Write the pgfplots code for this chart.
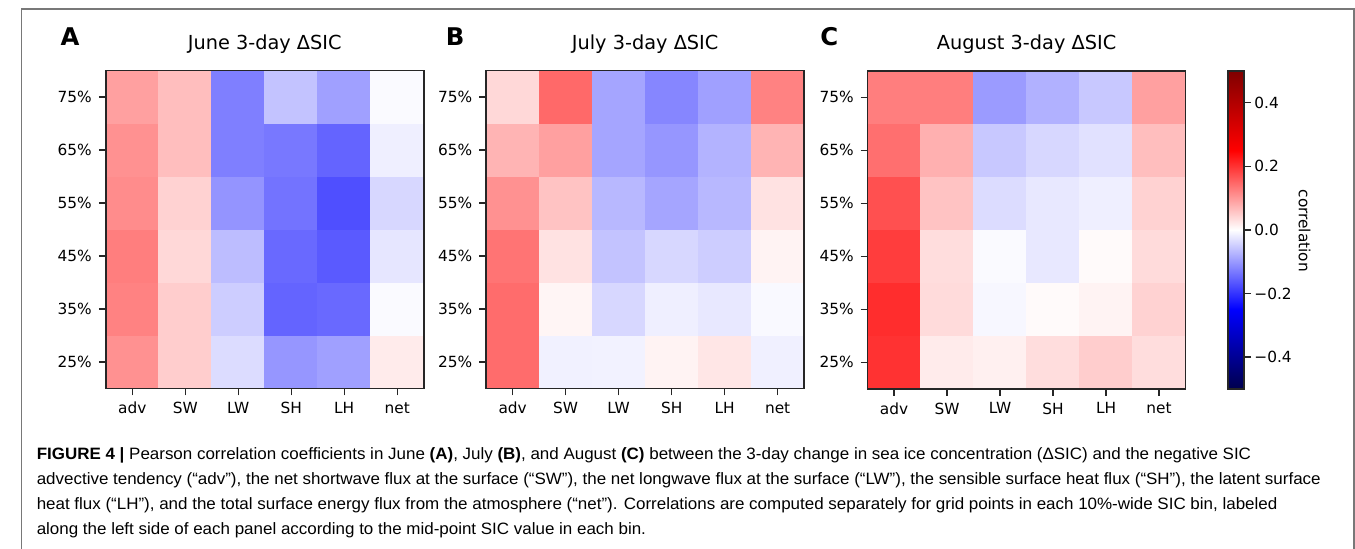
\documentclass[border=0pt]{standalone}
\usepackage{fontspec}
\setmainfont{DejaVu Sans}
\newfontfamily\capfont{Liberation Sans}
\usepackage{graphicx}
\usepackage{pgfplots}
\pgfplotsset{compat=1.18}

% diverging map, -0.5 (navy) .. 0 (white) .. 0.5 (dark red)
\pgfplotsset{
  colormap={seismic}{rgb=(0,0,0.3) rgb=(0,0,1) rgb=(1,1,1) rgb=(1,0,0) rgb=(0.5,0,0)},
  heat/.style={
    scale only axis, width=160.5pt, height=160.5pt,
    anchor=north west,
    axis on top,
    xmin=-0.5, xmax=5.5, ymin=-0.5, ymax=5.5,
    enlargelimits=false,
    xtick={0,...,5}, xticklabels={adv,SW,LW,SH,LH,net},
    ytick={0,...,5}, yticklabels={25\%,35\%,45\%,55\%,65\%,75\%},
    tick align=outside, tick pos=left,
    major tick length=3.5pt,
    tick style={draw=black!85, line width=0.7pt},
    axis line style={draw=black!85, line width=0.8pt},
    tick label style={font=\fontsize{7.75}{9}\selectfont},
    colormap name=seismic,
    point meta min=-0.5, point meta max=0.5,
  },
  cell/.style={matrix plot*, mesh/cols=6, point meta=explicit},
}

% correlation tables: x = flux term (adv SW LW SH LH net), y = SIC bin (25% .. 75%)
\pgfplotstableread{
x y c
0 0 0.108
1 0 0.049
2 0 -0.034
3 0 -0.103
4 0 -0.093
5 0 0.020
0 1 0.123
1 1 0.049
2 1 -0.049
3 1 -0.152
4 1 -0.147
5 1 -0.005
0 2 0.127
1 2 0.039
2 2 -0.064
3 2 -0.147
4 2 -0.162
5 2 -0.024
0 3 0.113
1 3 0.044
2 3 -0.105
3 3 -0.137
4 3 -0.172
5 3 -0.039
0 4 0.108
1 4 0.064
2 4 -0.125
3 4 -0.132
4 4 -0.152
5 4 -0.015
0 5 0.093
1 5 0.064
2 5 -0.125
3 5 -0.059
4 5 -0.093
5 5 -0.005
}\june

\pgfplotstableread{
x y c
0 0 0.144
1 0 -0.013
2 0 -0.012
3 0 0.012
4 0 0.025
5 0 -0.014
0 1 0.144
1 1 0.010
2 1 -0.039
3 1 -0.015
4 1 -0.022
5 1 -0.006
0 2 0.137
1 2 0.029
2 2 -0.059
3 2 -0.039
4 2 -0.049
5 2 0.012
0 3 0.108
1 3 0.059
2 3 -0.069
3 3 -0.088
4 3 -0.069
5 3 0.029
0 4 0.074
1 4 0.093
2 4 -0.088
3 4 -0.103
4 4 -0.074
5 4 0.074
0 5 0.039
1 5 0.147
2 5 -0.088
3 5 -0.118
4 5 -0.093
5 5 0.123
}\july

\pgfplotstableread{
x y c
0 0 0.201
1 0 0.020
2 0 0.015
3 0 0.034
4 0 0.049
5 0 0.034
0 1 0.206
1 1 0.036
2 1 -0.008
3 1 0.005
4 1 0.012
5 1 0.044
0 2 0.191
1 2 0.034
2 2 -0.005
3 2 -0.022
4 2 0.005
5 2 0.036
0 3 0.172
1 3 0.059
2 3 -0.034
3 3 -0.022
4 3 -0.015
5 3 0.044
0 4 0.142
1 4 0.078
2 4 -0.054
3 4 -0.039
4 4 -0.029
5 4 0.064
0 5 0.127
1 5 0.127
2 5 -0.098
3 5 -0.076
4 5 -0.054
5 5 0.093
}\august

\newcommand\capsize{\fontsize{8.3}{10}\selectfont}
\newcommand\lineone{\textbf{FIGURE 4 |} Pearson correlation coefficients in June \textbf{(A)}, July \textbf{(B)}, and August \textbf{(C)} between the 3-day change in sea ice concentration (ΔSIC) and the negative SIC}
\newcommand\linetwo{advective tendency (“adv”), the net shortwave flux at the surface (“SW”), the net longwave flux at the surface (“LW”), the sensible surface heat flux (“SH”), the latent surface}
\newcommand\linethree{heat flux (“LH”), and the total surface energy flux from the atmosphere (“net”). Correlations are computed separately for grid points in each 10\%-wide SIC bin, labeled}
\newcommand\linefour{along the left side of each panel according to the mid-point SIC value in each bin.}
\newlength\capw

\begin{document}
\settowidth\capw{\capfont\capsize\linetwo}
\pgfmathsetmacro\capsx{648/\capw}
\begin{tikzpicture}
\useasboundingbox (0,0) rectangle (677.5pt,-277pt);

% outer frame of the figure
\draw[color={rgb,255:red,120;green,120;blue,120}, line width=0.75pt]
  (4.6pt,-277pt) -- (4.6pt,-4.6pt) -- (676.9pt,-4.6pt) -- (676.9pt,-277pt);

% panel A
\begin{axis}[heat, at={(47pt,-35.5pt)}]
  \addplot[cell] table[meta=c] {\june};
\end{axis}
% panel B
\begin{axis}[heat, at={(239pt,-35.5pt)}]
  \addplot[cell] table[meta=c] {\july};
\end{axis}
% panel C with colour bar (default colorbar shift is 0.3cm)
\begin{axis}[heat, at={(431.5pt,-35.75pt)},
  colorbar,
  colorbar style={
    at={(parent axis.north east)}, anchor=north west, xshift=13pt,
    width=8pt,
    ytick={-0.4,-0.2,0,0.2,0.4},
    yticklabels={−0.4,−0.2,0.0,0.2,0.4},
    ytick pos=right, yticklabel pos=right,
    tick align=outside, major tick length=3.5pt,
    tick style={draw=black!85, line width=0.7pt},
    axis line style={draw=black!85, line width=0.8pt},
    yticklabel style={font=\fontsize{7.75}{9}\selectfont, inner sep=1.5pt},
  }]
  \addplot[cell] table[meta=c] {\august};
\end{axis}

% colour-bar label
\node[rotate=-90, font=\fontsize{7.75}{9}\selectfont] at (652pt,-116.5pt) {correlation};

% panel letters and titles
\begin{scope}[font=\fontsize{12.3}{14}\selectfont\bfseries]
  \node[anchor=base west, inner sep=0pt] at (24pt,-23pt) {A};
  \node[anchor=base west, inner sep=0pt] at (218.5pt,-23pt) {B};
  \node[anchor=base west, inner sep=0pt] at (407.5pt,-23pt) {C};
\end{scope}
\begin{scope}[font=\fontsize{9.75}{11}\selectfont]
  \node[anchor=base, inner sep=0pt] at (127.25pt,-25pt) {June 3-day ΔSIC};
  \node[anchor=base, inner sep=0pt] at (319.25pt,-25pt) {July 3-day ΔSIC};
  \node[anchor=base, inner sep=0pt] at (511.75pt,-25pt) {August 3-day ΔSIC};
\end{scope}

% caption
\begin{scope}[font=\capfont\capsize, every node/.style={anchor=base west, inner sep=0pt}]
  \node at (12pt,-232pt)   {\scalebox{\capsx}[1]{\lineone}};
  \node at (12pt,-244.5pt) {\scalebox{\capsx}[1]{\linetwo}};
  \node at (12pt,-257pt)   {\scalebox{\capsx}[1]{\linethree}};
  \node at (12pt,-269.5pt) {\scalebox{\capsx}[1]{\linefour}};
\end{scope}
\end{tikzpicture}
\end{document}
